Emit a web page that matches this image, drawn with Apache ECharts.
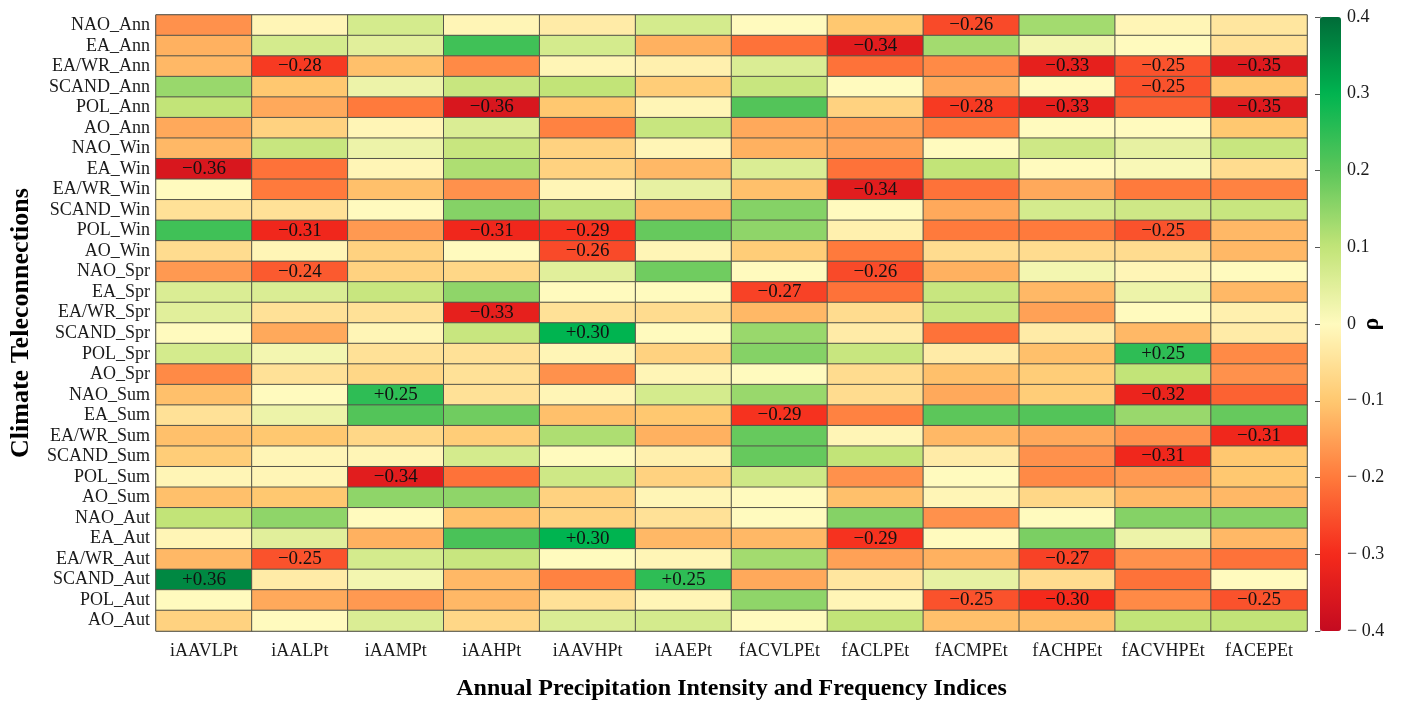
<!DOCTYPE html>
<html>
<head>
<meta charset="utf-8">
<script src="https://cdn.jsdelivr.net/npm/echarts@6/dist/echarts.min.js"></script>
<style>
  html, body { margin: 0; padding: 0; background: #ffffff; }
  #chart { width: 1407px; height: 707px; }
</style>
</head>
<body>
<div id="chart"></div>
<script>
// Precipitation intensity / frequency indices (columns)
const indices = ['iAAVLPt', 'iAALPt', 'iAAMPt', 'iAAHPt', 'iAAVHPt', 'iAAEPt',
                 'fACVLPEt', 'fACLPEt', 'fACMPEt', 'fACHPEt', 'fACVHPEt', 'fACEPEt'];

// Teleconnection patterns and seasons (rows = pattern_season)
const patterns = ['NAO', 'EA', 'EA/WR', 'SCAND', 'POL', 'AO'];
const seasons = ['Ann', 'Win', 'Spr', 'Sum', 'Aut'];

// Spearman rho, one row per pattern (NAO, EA, EA/WR, SCAND, POL, AO), one value per index
const rhoAnn = [
  [-0.17, -0.01,  0.07, -0.01, -0.03,  0.07,  0.00, -0.10, -0.26,  0.13, -0.01, -0.04],
  [-0.13,  0.07,  0.05,  0.23,  0.07, -0.13, -0.21, -0.34,  0.13,  0.02,  0.00, -0.05],
  [-0.12, -0.28, -0.11, -0.18, -0.01, -0.02,  0.06, -0.21, -0.18, -0.33, -0.25, -0.35],
  [ 0.14, -0.10,  0.03,  0.09,  0.10, -0.09,  0.09,  0.00, -0.14,  0.00, -0.25, -0.10],
  [ 0.10, -0.14, -0.20, -0.36, -0.10, -0.01,  0.21, -0.08, -0.28, -0.33, -0.23, -0.35],
  [-0.14, -0.08, -0.01,  0.06, -0.19,  0.09, -0.14, -0.15, -0.19,  0.00,  0.00, -0.10]
];
const rhoWin = [
  [-0.12,  0.09,  0.03,  0.09, -0.08, -0.01, -0.13, -0.15,  0.00,  0.08,  0.04,  0.09],
  [-0.36, -0.21, -0.01,  0.12, -0.08, -0.12,  0.06, -0.21,  0.10,  0.00,  0.01, -0.06],
  [ 0.00, -0.20, -0.11, -0.17, -0.01,  0.04, -0.11, -0.34, -0.21, -0.14, -0.20, -0.19],
  [-0.05, -0.05,  0.00,  0.16,  0.11, -0.13,  0.16,  0.00, -0.14,  0.07,  0.08,  0.09],
  [ 0.23, -0.31, -0.16, -0.31, -0.29,  0.19,  0.15, -0.02, -0.20, -0.20, -0.25, -0.12],
  [-0.06, -0.01, -0.08,  0.00, -0.26, -0.01, -0.09, -0.20, -0.06, -0.06, -0.06, -0.12]
];
const rhoSpr = [
  [-0.16, -0.24, -0.08, -0.07,  0.05,  0.18,  0.00, -0.26, -0.13,  0.02, -0.01,  0.00],
  [ 0.06,  0.06,  0.09,  0.15,  0.00,  0.00, -0.27, -0.21,  0.09, -0.12,  0.03, -0.12],
  [ 0.05, -0.05, -0.05, -0.33, -0.05, -0.06, -0.12, -0.06,  0.09, -0.15,  0.00, -0.02],
  [ 0.00, -0.14, -0.01,  0.09,  0.30,  0.00,  0.14, -0.03, -0.21, -0.03, -0.12, -0.03],
  [ 0.07,  0.02, -0.05, -0.05, -0.01, -0.08,  0.16,  0.09, -0.03, -0.11,  0.25, -0.18],
  [-0.18, -0.05, -0.07, -0.05, -0.17, -0.01,  0.00, -0.06, -0.11, -0.09,  0.10, -0.17]
];
const rhoSum = [
  [-0.11,  0.00,  0.25, -0.05, -0.01,  0.07,  0.14, -0.06, -0.14, -0.09, -0.32, -0.23],
  [-0.05,  0.03,  0.21,  0.18, -0.11, -0.10, -0.29, -0.19,  0.20,  0.21,  0.14,  0.19],
  [-0.11, -0.10, -0.07, -0.09,  0.12, -0.13,  0.19, -0.01, -0.12, -0.14, -0.17, -0.31],
  [-0.09, -0.01, -0.01,  0.07,  0.00, -0.02,  0.19,  0.10, -0.03, -0.17, -0.31, -0.10],
  [-0.01, -0.01, -0.34, -0.21,  0.08, -0.08,  0.08, -0.17,  0.00, -0.18, -0.16, -0.10],
  [-0.11, -0.10,  0.15,  0.15, -0.08, -0.01,  0.00, -0.11, -0.01, -0.07, -0.12, -0.12]
];
const rhoAut = [
  [ 0.10,  0.15,  0.00, -0.11, -0.08, -0.05,  0.00,  0.16, -0.17,  0.00,  0.16,  0.16],
  [-0.01,  0.05, -0.13,  0.22,  0.30, -0.12, -0.12, -0.29,  0.00,  0.17,  0.03, -0.12],
  [-0.12, -0.25,  0.07,  0.09,  0.00, -0.01,  0.13, -0.15, -0.13, -0.27, -0.17, -0.21],
  [ 0.36, -0.03,  0.02, -0.12, -0.19,  0.25, -0.14, -0.04,  0.04, -0.06, -0.21,  0.00],
  [ 0.00, -0.14, -0.16, -0.12, -0.05, -0.01,  0.15, -0.01, -0.25, -0.30, -0.18, -0.25],
  [-0.08,  0.00,  0.06, -0.07,  0.06,  0.07,  0.00,  0.10, -0.11, -0.11,  0.10,  0.10]
];

// Colour bar range and ticks
const rhoMin = -0.4;
const rhoMax = 0.4;
const rhoStep = 0.1;
// |rho| at or above this value is printed in the cell
const labelThreshold = 0.24;

// Diverging palette, evenly spaced from rhoMin to rhoMax
const palette = ['#c40a20', '#f52a1c', '#ff7a3c', '#ffc870', '#fffabe',
                 '#c2e478', '#5cc65a', '#00b450', '#006b38'];

const seasonBlocks = [rhoAnn, rhoWin, rhoSpr, rhoSum, rhoAut];
const rowLabels = [];
const cells = [];
seasons.forEach((s, si) => {
  patterns.forEach((p, pi) => {
    const row = rowLabels.length;
    rowLabels.push(p + '_' + s);
    seasonBlocks[si][pi].forEach((v, col) => cells.push([col, row, v]));
  });
});

const SERIF = '"Liberation Serif", "Times New Roman", serif';

function cellLabel(v) {
  if (Math.abs(v) < labelThreshold - 1e-9) return '';
  return (v > 0 ? '+' : '\u2212') + Math.abs(v).toFixed(2);
}

const chart = echarts.init(document.getElementById('chart'), null, { renderer: 'canvas' });
chart.setOption({
  animation: false,
  backgroundColor: '#ffffff',
  grid: [
    { left: 153, top: 15, width: 1154, height: 616, show: true,
      borderColor: '#555555', borderWidth: 1, backgroundColor: 'transparent' },
    { left: 1320, top: 17, width: 21, height: 614, show: false }
  ],
  xAxis: [
    {
      type: 'category', data: indices, gridIndex: 0,
      axisLine: { show: false }, axisTick: { show: false },
      splitLine: { show: false },
      axisLabel: { interval: 0, fontFamily: SERIF, fontSize: 18, color: '#1a1a1a', margin: 11 },
      name: 'Annual Precipitation Intensity and Frequency Indices',
      nameLocation: 'middle', nameGap: 46, nameMoveOverlap: false,
      nameTextStyle: { fontFamily: SERIF, fontSize: 24, fontWeight: 'bold', color: '#000' }
    },
    { type: 'value', gridIndex: 1, min: 0, max: 1, show: false }
  ],
  yAxis: [
    {
      type: 'category', data: rowLabels, inverse: true, gridIndex: 0,
      axisLine: { show: false }, axisTick: { show: false },
      splitLine: { show: false },
      axisLabel: { interval: 0, fontFamily: SERIF, fontSize: 18, color: '#1a1a1a', margin: 6 },
      name: 'Climate Teleconnections',
      nameLocation: 'middle', nameGap: 122, nameRotate: 90, nameMoveOverlap: false,
      nameTextStyle: { fontFamily: SERIF, fontSize: 26, fontWeight: 'bold', color: '#000' }
    },
    {
      type: 'value', gridIndex: 1, position: 'right',
      min: rhoMin, max: rhoMax, interval: rhoStep,
      axisLine: { show: true, lineStyle: { color: '#9a9a9a', width: 1 } },
      axisTick: { show: true, inside: true, length: 5, lineStyle: { color: '#555' } },
      splitLine: { show: false },
      axisLabel: {
        fontFamily: SERIF, fontSize: 18, color: '#1a1a1a', margin: 6,
        formatter: v => {
          const r = Math.round(v * 10) / 10;
          if (r === 0) return '0';
          return r < 0 ? '\u2212 ' + Math.abs(r).toFixed(1) : r.toFixed(1);
        }
      },
      name: '\u03c1', nameLocation: 'middle', nameGap: 19, nameRotate: 90, nameMoveOverlap: false,
      nameTextStyle: { fontFamily: SERIF, fontSize: 24, fontWeight: 'bold', color: '#000' }
    }
  ],
  visualMap: {
    type: 'continuous', seriesIndex: 0,
    min: rhoMin, max: rhoMax,
    calculable: false, hoverLink: false, realtime: false,
    left: 1320, top: 17, itemWidth: 21, itemHeight: 614, padding: 0,
    inRange: { color: palette },
    textStyle: { color: 'transparent' }
  },
  series: [{
    type: 'heatmap',
    xAxisIndex: 0, yAxisIndex: 0,
    data: cells,
    itemStyle: { borderColor: '#55554a', borderWidth: 1 },
    label: {
      show: true, fontFamily: SERIF, fontSize: 19, color: '#111',
      formatter: p => cellLabel(p.value[2])
    },
    emphasis: { disabled: true }
  }]
});
</script>
</body>
</html>
